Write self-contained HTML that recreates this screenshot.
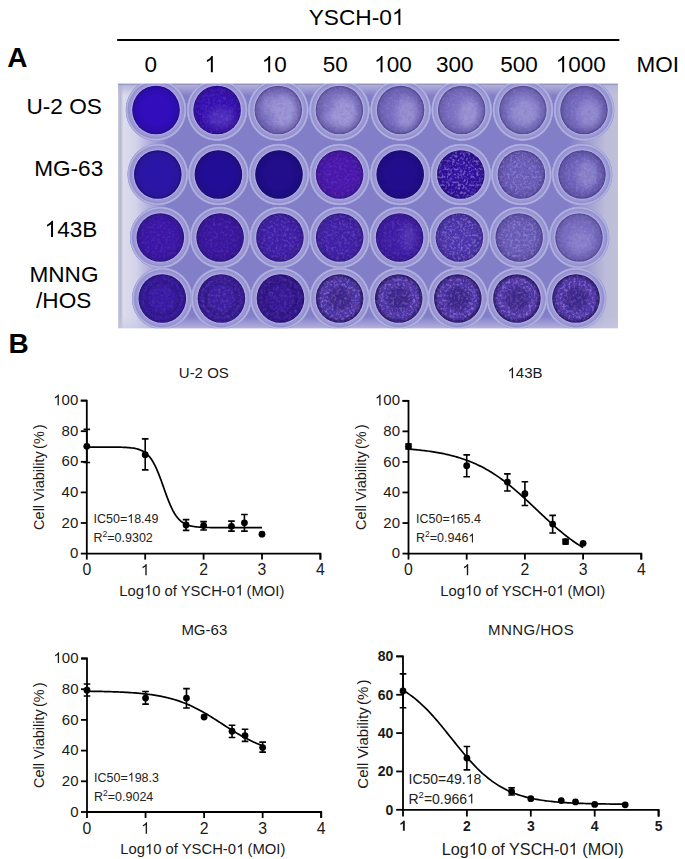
<!DOCTYPE html>
<html><head><meta charset="utf-8"><style>
html,body{margin:0;padding:0;background:#fff;width:685px;height:859px;overflow:hidden}
svg{display:block}
text{font-family:"Liberation Sans",sans-serif;white-space:pre}
</style></head><body>
<svg width="685" height="859" viewBox="0 0 685 859">
<g fill="#000"><text x="308.66" y="25.10" font-size="22.7">YSCH-0</text><path d="M763 0H583V1147Q518 1085 412 1023Q307 961 223 930V1104Q374 1175 487 1276Q600 1377 647 1472H763Z" transform="translate(391.91,25.10) scale(0.01108,-0.01108)"/></g>
<line x1="118" y1="40" x2="618.5" y2="40" stroke="#000" stroke-width="2.2" stroke-linecap="round"/>
<g fill="#000"><text x="7.20" y="67.30" font-size="28" font-weight="bold">A</text></g>
<g fill="#000"><text x="144.44" y="72.20" font-size="22.5">0</text></g>
<g fill="#000"><path d="M763 0H583V1147Q518 1085 412 1023Q307 961 223 930V1104Q374 1175 487 1276Q600 1377 647 1472H763Z" transform="translate(204.44,72.20) scale(0.01099,-0.01099)"/></g>
<g fill="#000"><path d="M763 0H583V1147Q518 1085 412 1023Q307 961 223 930V1104Q374 1175 487 1276Q600 1377 647 1472H763Z" transform="translate(261.79,72.20) scale(0.01099,-0.01099)"/><text x="274.30" y="72.20" font-size="22.5">0</text></g>
<g fill="#000"><text x="322.69" y="72.20" font-size="22.5">50</text></g>
<g fill="#000"><path d="M763 0H583V1147Q518 1085 412 1023Q307 961 223 930V1104Q374 1175 487 1276Q600 1377 647 1472H763Z" transform="translate(374.13,72.20) scale(0.01099,-0.01099)"/><text x="386.64" y="72.20" font-size="22.5">00</text></g>
<g fill="#000"><text x="436.03" y="72.20" font-size="22.5">300</text></g>
<g fill="#000"><text x="500.23" y="72.20" font-size="22.5">500</text></g>
<g fill="#000"><path d="M763 0H583V1147Q518 1085 412 1023Q307 961 223 930V1104Q374 1175 487 1276Q600 1377 647 1472H763Z" transform="translate(555.77,72.20) scale(0.01099,-0.01099)"/><text x="568.29" y="72.20" font-size="22.5">000</text></g>
<g fill="#000"><text x="636.45" y="72.20" font-size="22.5">MOI</text></g>
<g fill="#000"><text x="26.53" y="114.20" font-size="22.6">U-2 OS</text></g>
<g fill="#000"><text x="34.17" y="176.20" font-size="22.6">MG-63</text></g>
<g fill="#000"><path d="M763 0H583V1147Q518 1085 412 1023Q307 961 223 930V1104Q374 1175 487 1276Q600 1377 647 1472H763Z" transform="translate(44.61,236.90) scale(0.01104,-0.01104)"/><text x="57.18" y="236.90" font-size="22.6">43B</text></g>
<g fill="#000"><text x="29.48" y="281.60" font-size="22.6">MNNG</text></g>
<g fill="#000"><text x="36.07" y="308.20" font-size="22.6">/HOS</text></g>
<g fill="#000"><text x="8.40" y="353.40" font-size="28" font-weight="bold">B</text></g>
<defs>
<linearGradient id="plateg" x1="0" y1="0" x2="1" y2="0">
<stop offset="0" stop-color="#c8c8dc"/><stop offset="0.005" stop-color="#b8b8d2"/><stop offset="0.011" stop-color="#dcdcec"/><stop offset="0.035" stop-color="#d4d4ea"/><stop offset="0.06" stop-color="#b4b2dc"/><stop offset="0.1" stop-color="#827ec8"/>
<stop offset="0.9" stop-color="#827ec8"/><stop offset="0.95" stop-color="#a8a7d2"/><stop offset="0.975" stop-color="#bcbcda"/><stop offset="1" stop-color="#c0c0da"/></linearGradient>
<linearGradient id="platev" x1="0" y1="0" x2="0" y2="1">
<stop offset="0" stop-color="#77769e" stop-opacity="1"/><stop offset="0.008" stop-color="#b4b4da" stop-opacity="0.9"/><stop offset="0.05" stop-color="#b8b8de" stop-opacity="0"/>
<stop offset="0.95" stop-color="#c8c8e6" stop-opacity="0"/><stop offset="1" stop-color="#c8c8e6" stop-opacity="0.7"/></linearGradient>
<radialGradient id="ringg"><stop offset="0.77" stop-color="#bcbae6"/><stop offset="0.81" stop-color="#a19fd8"/><stop offset="0.9" stop-color="#928fcf"/><stop offset="0.945" stop-color="#b6b5e2"/><stop offset="0.98" stop-color="#a09ed8"/><stop offset="1" stop-color="#8a86c8" stop-opacity="0"/></radialGradient>
<radialGradient id="rim"><stop offset="0.6" stop-color="#14083c" stop-opacity="0"/><stop offset="0.9" stop-color="#14083c" stop-opacity="0.15"/><stop offset="1" stop-color="#14083c" stop-opacity="0.4"/></radialGradient>
<radialGradient id="r4a"><stop offset="0.5" stop-color="#14083c" stop-opacity="0.05"/><stop offset="0.68" stop-color="#14083c" stop-opacity="0.3"/><stop offset="0.8" stop-color="#14083c" stop-opacity="0.08"/><stop offset="0.92" stop-color="#14083c" stop-opacity="0.3"/><stop offset="1" stop-color="#14083c" stop-opacity="0.5"/></radialGradient>
<radialGradient id="r4b"><stop offset="0" stop-color="#1c0c5a" stop-opacity="0.4"/><stop offset="0.42" stop-color="#1c0c5a" stop-opacity="0.32"/><stop offset="0.6" stop-color="#1c0c5a" stop-opacity="0.05"/><stop offset="0.8" stop-color="#1c0c5a" stop-opacity="0.05"/><stop offset="0.92" stop-color="#14083c" stop-opacity="0.45"/><stop offset="1" stop-color="#14083c" stop-opacity="0.7"/></radialGradient>
<filter id="speck" x="0" y="0" width="1" height="1"><feTurbulence type="fractalNoise" baseFrequency="1.1" numOctaves="1" seed="4" result="n"/>
<feColorMatrix in="n" type="matrix" values="0 0 0 0 0.78  0 0 0 0 0.76  0 0 0 0 0.95  0 0 0 -4 2.3" result="c"/>
<feComposite in="c" in2="SourceGraphic" operator="in"/></filter>
<filter id="dspeck" x="0" y="0" width="1" height="1"><feTurbulence type="fractalNoise" baseFrequency="0.25" numOctaves="3" seed="9" result="n"/>
<feColorMatrix in="n" type="matrix" values="0 0 0 0 0.16  0 0 0 0 0.06  0 0 0 0 0.42  0 0 0 4 -1.85" result="c"/>
<feComposite in="c" in2="SourceGraphic" operator="in"/></filter>
<filter id="blob" x="-50%" y="-50%" width="200%" height="200%"><feGaussianBlur stdDeviation="3.5"/></filter>
<filter id="speck2" x="0" y="0" width="1" height="1"><feTurbulence type="fractalNoise" baseFrequency="0.38" numOctaves="2" seed="21" result="n"/>
<feColorMatrix in="n" type="matrix" values="0 0 0 0 0.55  0 0 0 0 0.45  0 0 0 0 0.9  0 0 0 -3.2 1.75" result="c0"/><feGaussianBlur in="c0" stdDeviation="0.6" result="c"/>
<feComposite in="c" in2="SourceGraphic" operator="in"/></filter>
<filter id="soft" x="0" y="0" width="1" height="1"><feGaussianBlur stdDeviation="0.45"/></filter>
<clipPath id="plateclip"><rect x="118" y="83.5" width="500" height="245"/></clipPath>
<clipPath id="w00"><ellipse cx="156.0" cy="110.0" rx="23.8" ry="24.3"/></clipPath>
<clipPath id="w01"><ellipse cx="217.1" cy="110.0" rx="23.8" ry="24.3"/></clipPath>
<clipPath id="w02"><ellipse cx="278.3" cy="110.0" rx="23.8" ry="24.3"/></clipPath>
<clipPath id="w03"><ellipse cx="339.4" cy="110.0" rx="23.8" ry="24.3"/></clipPath>
<clipPath id="w04"><ellipse cx="400.6" cy="110.0" rx="23.8" ry="24.3"/></clipPath>
<clipPath id="w05"><ellipse cx="461.7" cy="110.0" rx="23.8" ry="24.3"/></clipPath>
<clipPath id="w06"><ellipse cx="522.9" cy="110.0" rx="23.8" ry="24.3"/></clipPath>
<clipPath id="w07"><ellipse cx="584.0" cy="110.0" rx="23.8" ry="24.3"/></clipPath>
<clipPath id="w10"><ellipse cx="157.8" cy="174.5" rx="23.8" ry="24.3"/></clipPath>
<clipPath id="w11"><ellipse cx="218.4" cy="174.5" rx="23.8" ry="24.3"/></clipPath>
<clipPath id="w12"><ellipse cx="279.0" cy="174.5" rx="23.8" ry="24.3"/></clipPath>
<clipPath id="w13"><ellipse cx="339.6" cy="174.5" rx="23.8" ry="24.3"/></clipPath>
<clipPath id="w14"><ellipse cx="400.2" cy="174.5" rx="23.8" ry="24.3"/></clipPath>
<clipPath id="w15"><ellipse cx="460.8" cy="174.5" rx="23.8" ry="24.3"/></clipPath>
<clipPath id="w16"><ellipse cx="521.4" cy="174.5" rx="23.8" ry="24.3"/></clipPath>
<clipPath id="w17"><ellipse cx="582.0" cy="174.5" rx="23.8" ry="24.3"/></clipPath>
<clipPath id="w20"><ellipse cx="160.3" cy="237.5" rx="23.8" ry="24.3"/></clipPath>
<clipPath id="w21"><ellipse cx="220.1" cy="237.5" rx="23.8" ry="24.3"/></clipPath>
<clipPath id="w22"><ellipse cx="279.9" cy="237.5" rx="23.8" ry="24.3"/></clipPath>
<clipPath id="w23"><ellipse cx="339.7" cy="237.5" rx="23.8" ry="24.3"/></clipPath>
<clipPath id="w24"><ellipse cx="399.6" cy="237.5" rx="23.8" ry="24.3"/></clipPath>
<clipPath id="w25"><ellipse cx="459.4" cy="237.5" rx="23.8" ry="24.3"/></clipPath>
<clipPath id="w26"><ellipse cx="519.2" cy="237.5" rx="23.8" ry="24.3"/></clipPath>
<clipPath id="w27"><ellipse cx="579.0" cy="237.5" rx="23.8" ry="24.3"/></clipPath>
<clipPath id="w30"><ellipse cx="162.3" cy="298.5" rx="23.8" ry="24.3"/></clipPath>
<clipPath id="w31"><ellipse cx="221.4" cy="298.5" rx="23.8" ry="24.3"/></clipPath>
<clipPath id="w32"><ellipse cx="280.5" cy="298.5" rx="23.8" ry="24.3"/></clipPath>
<clipPath id="w33"><ellipse cx="339.6" cy="298.5" rx="23.8" ry="24.3"/></clipPath>
<clipPath id="w34"><ellipse cx="398.7" cy="298.5" rx="23.8" ry="24.3"/></clipPath>
<clipPath id="w35"><ellipse cx="457.8" cy="298.5" rx="23.8" ry="24.3"/></clipPath>
<clipPath id="w36"><ellipse cx="516.9" cy="298.5" rx="23.8" ry="24.3"/></clipPath>
<clipPath id="w37"><ellipse cx="576.0" cy="298.5" rx="23.8" ry="24.3"/></clipPath>
</defs>
<g clip-path="url(#plateclip)"><g filter="url(#soft)">
<rect x="118" y="83.5" width="500" height="245" fill="url(#plateg)"/>
<rect x="118" y="83.5" width="500" height="245" fill="url(#platev)"/>
<ellipse cx="156.0" cy="110.0" rx="30.8" ry="31.3" fill="url(#ringg)"/>
<g clip-path="url(#w00)">
<rect x="131.0" y="85.0" width="50" height="50" fill="rgb(48,8,188)"/>
<ellipse cx="156.0" cy="110.0" rx="23.8" ry="24.3" fill="url(#rim)"/>
</g>
<ellipse cx="217.1" cy="110.0" rx="30.8" ry="31.3" fill="url(#ringg)"/>
<g clip-path="url(#w01)">
<rect x="192.1" y="85.0" width="50" height="50" fill="rgb(54,16,176)"/>
<ellipse cx="221.1" cy="118.0" rx="14" ry="10" fill="#8a70d8" opacity="0.3" filter="url(#blob)"/>
<rect x="192.1" y="85.0" width="50" height="50" fill="#fff" filter="url(#speck)" opacity="0.02"/>
<rect x="192.1" y="85.0" width="50" height="50" fill="#fff" filter="url(#speck2)" opacity="0.12"/>
<ellipse cx="217.1" cy="110.0" rx="23.8" ry="24.3" fill="url(#rim)"/>
</g>
<ellipse cx="278.3" cy="110.0" rx="30.8" ry="31.3" fill="url(#ringg)"/>
<g clip-path="url(#w02)">
<rect x="253.3" y="85.0" width="50" height="50" fill="rgb(120,110,192)"/>
<ellipse cx="284.3" cy="112.0" rx="13" ry="17" fill="#b4b2e4" opacity="0.55" filter="url(#blob)"/>
<ellipse cx="268.3" cy="104.0" rx="7" ry="10" fill="#b4b2e4" opacity="0.35" filter="url(#blob)"/>
<rect x="253.3" y="85.0" width="50" height="50" fill="#fff" filter="url(#speck)" opacity="0.08"/>
<rect x="253.3" y="85.0" width="50" height="50" fill="#fff" filter="url(#speck2)" opacity="0.15"/>
<rect x="253.3" y="85.0" width="50" height="50" fill="#fff" filter="url(#dspeck)" opacity="0.12"/>
<ellipse cx="278.3" cy="110.0" rx="23.8" ry="24.3" fill="url(#rim)"/>
</g>
<ellipse cx="339.4" cy="110.0" rx="30.8" ry="31.3" fill="url(#ringg)"/>
<g clip-path="url(#w03)">
<rect x="314.4" y="85.0" width="50" height="50" fill="rgb(122,112,193)"/>
<ellipse cx="344.4" cy="113.0" rx="13" ry="16" fill="#b4b2e4" opacity="0.55" filter="url(#blob)"/>
<ellipse cx="331.4" cy="118.0" rx="8" ry="6" fill="#b4b2e4" opacity="0.35" filter="url(#blob)"/>
<rect x="314.4" y="85.0" width="50" height="50" fill="#fff" filter="url(#speck)" opacity="0.08"/>
<rect x="314.4" y="85.0" width="50" height="50" fill="#fff" filter="url(#speck2)" opacity="0.15"/>
<rect x="314.4" y="85.0" width="50" height="50" fill="#fff" filter="url(#dspeck)" opacity="0.12"/>
<ellipse cx="339.4" cy="110.0" rx="23.8" ry="24.3" fill="url(#rim)"/>
</g>
<ellipse cx="400.6" cy="110.0" rx="30.8" ry="31.3" fill="url(#ringg)"/>
<g clip-path="url(#w04)">
<rect x="375.6" y="85.0" width="50" height="50" fill="rgb(116,106,190)"/>
<ellipse cx="406.6" cy="114.0" rx="11" ry="16" fill="#b4b2e4" opacity="0.5" filter="url(#blob)"/>
<rect x="375.6" y="85.0" width="50" height="50" fill="#fff" filter="url(#speck)" opacity="0.06"/>
<rect x="375.6" y="85.0" width="50" height="50" fill="#fff" filter="url(#speck2)" opacity="0.15"/>
<rect x="375.6" y="85.0" width="50" height="50" fill="#fff" filter="url(#dspeck)" opacity="0.12"/>
<ellipse cx="400.6" cy="110.0" rx="23.8" ry="24.3" fill="url(#rim)"/>
</g>
<ellipse cx="461.7" cy="110.0" rx="30.8" ry="31.3" fill="url(#ringg)"/>
<g clip-path="url(#w05)">
<rect x="436.7" y="85.0" width="50" height="50" fill="rgb(120,110,192)"/>
<ellipse cx="468.7" cy="114.0" rx="11" ry="15" fill="#b4b2e4" opacity="0.5" filter="url(#blob)"/>
<rect x="436.7" y="85.0" width="50" height="50" fill="#fff" filter="url(#speck)" opacity="0.06"/>
<rect x="436.7" y="85.0" width="50" height="50" fill="#fff" filter="url(#speck2)" opacity="0.15"/>
<rect x="436.7" y="85.0" width="50" height="50" fill="#fff" filter="url(#dspeck)" opacity="0.1"/>
<ellipse cx="461.7" cy="110.0" rx="23.8" ry="24.3" fill="url(#rim)"/>
</g>
<ellipse cx="522.9" cy="110.0" rx="30.8" ry="31.3" fill="url(#ringg)"/>
<g clip-path="url(#w06)">
<rect x="497.9" y="85.0" width="50" height="50" fill="rgb(120,112,192)"/>
<ellipse cx="524.9" cy="112.0" rx="14" ry="14" fill="#b4b2e4" opacity="0.45" filter="url(#blob)"/>
<rect x="497.9" y="85.0" width="50" height="50" fill="#fff" filter="url(#speck)" opacity="0.06"/>
<rect x="497.9" y="85.0" width="50" height="50" fill="#fff" filter="url(#speck2)" opacity="0.15"/>
<rect x="497.9" y="85.0" width="50" height="50" fill="#fff" filter="url(#dspeck)" opacity="0.1"/>
<ellipse cx="522.9" cy="110.0" rx="23.8" ry="24.3" fill="url(#rim)"/>
</g>
<ellipse cx="584.0" cy="110.0" rx="30.8" ry="31.3" fill="url(#ringg)"/>
<g clip-path="url(#w07)">
<rect x="559.0" y="85.0" width="50" height="50" fill="rgb(114,104,188)"/>
<ellipse cx="589.0" cy="114.0" rx="12" ry="14" fill="#b4b2e4" opacity="0.45" filter="url(#blob)"/>
<rect x="559.0" y="85.0" width="50" height="50" fill="#fff" filter="url(#speck)" opacity="0.06"/>
<rect x="559.0" y="85.0" width="50" height="50" fill="#fff" filter="url(#speck2)" opacity="0.15"/>
<rect x="559.0" y="85.0" width="50" height="50" fill="#fff" filter="url(#dspeck)" opacity="0.1"/>
<ellipse cx="584.0" cy="110.0" rx="23.8" ry="24.3" fill="url(#rim)"/>
</g>
<ellipse cx="157.8" cy="174.5" rx="30.8" ry="31.3" fill="url(#ringg)"/>
<g clip-path="url(#w10)">
<rect x="132.8" y="149.5" width="50" height="50" fill="rgb(44,20,166)"/>
<ellipse cx="157.8" cy="174.5" rx="23.8" ry="24.3" fill="url(#rim)"/>
</g>
<ellipse cx="218.4" cy="174.5" rx="30.8" ry="31.3" fill="url(#ringg)"/>
<g clip-path="url(#w11)">
<rect x="193.4" y="149.5" width="50" height="50" fill="rgb(36,14,150)"/>
<ellipse cx="218.4" cy="174.5" rx="23.8" ry="24.3" fill="url(#rim)"/>
</g>
<ellipse cx="279.0" cy="174.5" rx="30.8" ry="31.3" fill="url(#ringg)"/>
<g clip-path="url(#w12)">
<rect x="254.0" y="149.5" width="50" height="50" fill="rgb(32,12,138)"/>
<ellipse cx="279.0" cy="174.5" rx="23.8" ry="24.3" fill="url(#rim)"/>
</g>
<ellipse cx="339.6" cy="174.5" rx="30.8" ry="31.3" fill="url(#ringg)"/>
<g clip-path="url(#w13)">
<rect x="314.6" y="149.5" width="50" height="50" fill="rgb(72,22,172)"/>
<rect x="314.6" y="149.5" width="50" height="50" fill="#fff" filter="url(#speck)" opacity="0.03"/>
<rect x="314.6" y="149.5" width="50" height="50" fill="#fff" filter="url(#speck2)" opacity="0.12"/>
<ellipse cx="339.6" cy="174.5" rx="23.8" ry="24.3" fill="url(#rim)"/>
</g>
<ellipse cx="400.2" cy="174.5" rx="30.8" ry="31.3" fill="url(#ringg)"/>
<g clip-path="url(#w14)">
<rect x="375.2" y="149.5" width="50" height="50" fill="rgb(32,12,140)"/>
<rect x="375.2" y="149.5" width="50" height="50" fill="#fff" filter="url(#speck)" opacity="0.02"/>
<ellipse cx="400.2" cy="174.5" rx="23.8" ry="24.3" fill="url(#rim)"/>
</g>
<ellipse cx="460.8" cy="174.5" rx="30.8" ry="31.3" fill="url(#ringg)"/>
<g clip-path="url(#w15)">
<rect x="435.8" y="149.5" width="50" height="50" fill="rgb(46,16,156)"/>
<rect x="435.8" y="149.5" width="50" height="50" fill="#fff" filter="url(#speck)" opacity="0.02"/>
<rect x="435.8" y="149.5" width="50" height="50" fill="#fff" filter="url(#speck2)" opacity="0.5"/>
<rect x="435.8" y="149.5" width="50" height="50" fill="#fff" filter="url(#dspeck)" opacity="0.1"/>
<ellipse cx="460.8" cy="174.5" rx="23.8" ry="24.3" fill="url(#rim)"/>
</g>
<ellipse cx="521.4" cy="174.5" rx="30.8" ry="31.3" fill="url(#ringg)"/>
<g clip-path="url(#w16)">
<rect x="496.4" y="149.5" width="50" height="50" fill="rgb(100,88,182)"/>
<rect x="496.4" y="149.5" width="50" height="50" fill="#fff" filter="url(#speck)" opacity="0.12"/>
<rect x="496.4" y="149.5" width="50" height="50" fill="#fff" filter="url(#speck2)" opacity="0.35"/>
<rect x="496.4" y="149.5" width="50" height="50" fill="#fff" filter="url(#dspeck)" opacity="0.2"/>
<ellipse cx="521.4" cy="174.5" rx="23.8" ry="24.3" fill="url(#rim)"/>
</g>
<ellipse cx="582.0" cy="174.5" rx="30.8" ry="31.3" fill="url(#ringg)"/>
<g clip-path="url(#w17)">
<rect x="557.0" y="149.5" width="50" height="50" fill="rgb(106,96,184)"/>
<ellipse cx="587.0" cy="174.5" rx="10" ry="14" fill="#b4b2e4" opacity="0.4" filter="url(#blob)"/>
<rect x="557.0" y="149.5" width="50" height="50" fill="#fff" filter="url(#speck)" opacity="0.08"/>
<rect x="557.0" y="149.5" width="50" height="50" fill="#fff" filter="url(#speck2)" opacity="0.2"/>
<rect x="557.0" y="149.5" width="50" height="50" fill="#fff" filter="url(#dspeck)" opacity="0.15"/>
<ellipse cx="582.0" cy="174.5" rx="23.8" ry="24.3" fill="url(#rim)"/>
</g>
<ellipse cx="160.3" cy="237.5" rx="30.8" ry="31.3" fill="url(#ringg)"/>
<g clip-path="url(#w20)">
<rect x="135.3" y="212.5" width="50" height="50" fill="rgb(58,22,166)"/>
<rect x="135.3" y="212.5" width="50" height="50" fill="#fff" filter="url(#speck)" opacity="0.02"/>
<rect x="135.3" y="212.5" width="50" height="50" fill="#fff" filter="url(#speck2)" opacity="0.1"/>
<ellipse cx="160.3" cy="237.5" rx="23.8" ry="24.3" fill="url(#rim)"/>
</g>
<ellipse cx="220.1" cy="237.5" rx="30.8" ry="31.3" fill="url(#ringg)"/>
<g clip-path="url(#w21)">
<rect x="195.1" y="212.5" width="50" height="50" fill="rgb(56,20,158)"/>
<rect x="195.1" y="212.5" width="50" height="50" fill="#fff" filter="url(#speck)" opacity="0.03"/>
<rect x="195.1" y="212.5" width="50" height="50" fill="#fff" filter="url(#speck2)" opacity="0.12"/>
<ellipse cx="220.1" cy="237.5" rx="23.8" ry="24.3" fill="url(#rim)"/>
</g>
<ellipse cx="279.9" cy="237.5" rx="30.8" ry="31.3" fill="url(#ringg)"/>
<g clip-path="url(#w22)">
<rect x="254.9" y="212.5" width="50" height="50" fill="rgb(60,28,166)"/>
<rect x="254.9" y="212.5" width="50" height="50" fill="#fff" filter="url(#speck)" opacity="0.04"/>
<rect x="254.9" y="212.5" width="50" height="50" fill="#fff" filter="url(#speck2)" opacity="0.2"/>
<rect x="254.9" y="212.5" width="50" height="50" fill="#fff" filter="url(#dspeck)" opacity="0.1"/>
<ellipse cx="279.9" cy="237.5" rx="23.8" ry="24.3" fill="url(#rim)"/>
</g>
<ellipse cx="339.7" cy="237.5" rx="30.8" ry="31.3" fill="url(#ringg)"/>
<g clip-path="url(#w23)">
<rect x="314.7" y="212.5" width="50" height="50" fill="rgb(62,30,166)"/>
<rect x="314.7" y="212.5" width="50" height="50" fill="#fff" filter="url(#speck)" opacity="0.04"/>
<rect x="314.7" y="212.5" width="50" height="50" fill="#fff" filter="url(#speck2)" opacity="0.2"/>
<rect x="314.7" y="212.5" width="50" height="50" fill="#fff" filter="url(#dspeck)" opacity="0.1"/>
<ellipse cx="339.7" cy="237.5" rx="23.8" ry="24.3" fill="url(#rim)"/>
</g>
<ellipse cx="399.6" cy="237.5" rx="30.8" ry="31.3" fill="url(#ringg)"/>
<g clip-path="url(#w24)">
<rect x="374.6" y="212.5" width="50" height="50" fill="rgb(60,26,164)"/>
<ellipse cx="408.6" cy="237.5" rx="8" ry="14" fill="#8a70d8" opacity="0.25" filter="url(#blob)"/>
<rect x="374.6" y="212.5" width="50" height="50" fill="#fff" filter="url(#speck)" opacity="0.03"/>
<rect x="374.6" y="212.5" width="50" height="50" fill="#fff" filter="url(#speck2)" opacity="0.15"/>
<rect x="374.6" y="212.5" width="50" height="50" fill="#fff" filter="url(#dspeck)" opacity="0.05"/>
<ellipse cx="399.6" cy="237.5" rx="23.8" ry="24.3" fill="url(#rim)"/>
</g>
<ellipse cx="459.4" cy="237.5" rx="30.8" ry="31.3" fill="url(#ringg)"/>
<g clip-path="url(#w25)">
<rect x="434.4" y="212.5" width="50" height="50" fill="rgb(70,48,170)"/>
<rect x="434.4" y="212.5" width="50" height="50" fill="#fff" filter="url(#speck)" opacity="0.05"/>
<rect x="434.4" y="212.5" width="50" height="50" fill="#fff" filter="url(#speck2)" opacity="0.45"/>
<rect x="434.4" y="212.5" width="50" height="50" fill="#fff" filter="url(#dspeck)" opacity="0.3"/>
<ellipse cx="459.4" cy="237.5" rx="23.8" ry="24.3" fill="url(#rim)"/>
</g>
<ellipse cx="519.2" cy="237.5" rx="30.8" ry="31.3" fill="url(#ringg)"/>
<g clip-path="url(#w26)">
<rect x="494.2" y="212.5" width="50" height="50" fill="rgb(100,88,180)"/>
<rect x="494.2" y="212.5" width="50" height="50" fill="#fff" filter="url(#speck)" opacity="0.1"/>
<rect x="494.2" y="212.5" width="50" height="50" fill="#fff" filter="url(#speck2)" opacity="0.4"/>
<rect x="494.2" y="212.5" width="50" height="50" fill="#fff" filter="url(#dspeck)" opacity="0.2"/>
<ellipse cx="519.2" cy="237.5" rx="23.8" ry="24.3" fill="url(#rim)"/>
</g>
<ellipse cx="579.0" cy="237.5" rx="30.8" ry="31.3" fill="url(#ringg)"/>
<g clip-path="url(#w27)">
<rect x="554.0" y="212.5" width="50" height="50" fill="rgb(118,108,192)"/>
<ellipse cx="581.0" cy="241.5" rx="11" ry="11" fill="#b4b2e4" opacity="0.28" filter="url(#blob)"/>
<rect x="554.0" y="212.5" width="50" height="50" fill="#fff" filter="url(#speck)" opacity="0.06"/>
<rect x="554.0" y="212.5" width="50" height="50" fill="#fff" filter="url(#speck2)" opacity="0.18"/>
<rect x="554.0" y="212.5" width="50" height="50" fill="#fff" filter="url(#dspeck)" opacity="0.12"/>
<ellipse cx="579.0" cy="237.5" rx="23.8" ry="24.3" fill="url(#rim)"/>
</g>
<ellipse cx="162.3" cy="298.5" rx="30.8" ry="31.3" fill="url(#ringg)"/>
<g clip-path="url(#w30)">
<rect x="137.3" y="273.5" width="50" height="50" fill="rgb(56,26,168)"/>
<rect x="137.3" y="273.5" width="50" height="50" fill="#fff" filter="url(#speck)" opacity="0.02"/>
<rect x="137.3" y="273.5" width="50" height="50" fill="#fff" filter="url(#speck2)" opacity="0.1"/>
<rect x="137.3" y="273.5" width="50" height="50" fill="#fff" filter="url(#dspeck)" opacity="0.12"/>
<ellipse cx="162.3" cy="298.5" rx="23.8" ry="24.3" fill="url(#r4a)"/>
</g>
<ellipse cx="221.4" cy="298.5" rx="30.8" ry="31.3" fill="url(#ringg)"/>
<g clip-path="url(#w31)">
<rect x="196.4" y="273.5" width="50" height="50" fill="rgb(58,28,164)"/>
<rect x="196.4" y="273.5" width="50" height="50" fill="#fff" filter="url(#speck)" opacity="0.03"/>
<rect x="196.4" y="273.5" width="50" height="50" fill="#fff" filter="url(#speck2)" opacity="0.18"/>
<rect x="196.4" y="273.5" width="50" height="50" fill="#fff" filter="url(#dspeck)" opacity="0.22"/>
<ellipse cx="221.4" cy="298.5" rx="23.8" ry="24.3" fill="url(#r4a)"/>
</g>
<ellipse cx="280.5" cy="298.5" rx="30.8" ry="31.3" fill="url(#ringg)"/>
<g clip-path="url(#w32)">
<rect x="255.5" y="273.5" width="50" height="50" fill="rgb(50,20,152)"/>
<rect x="255.5" y="273.5" width="50" height="50" fill="#fff" filter="url(#speck)" opacity="0.03"/>
<rect x="255.5" y="273.5" width="50" height="50" fill="#fff" filter="url(#speck2)" opacity="0.18"/>
<rect x="255.5" y="273.5" width="50" height="50" fill="#fff" filter="url(#dspeck)" opacity="0.28"/>
<ellipse cx="280.5" cy="298.5" rx="23.8" ry="24.3" fill="url(#r4a)"/>
</g>
<ellipse cx="339.6" cy="298.5" rx="30.8" ry="31.3" fill="url(#ringg)"/>
<g clip-path="url(#w33)">
<rect x="314.6" y="273.5" width="50" height="50" fill="rgb(72,48,166)"/>
<rect x="314.6" y="273.5" width="50" height="50" fill="#fff" filter="url(#speck)" opacity="0.06"/>
<rect x="314.6" y="273.5" width="50" height="50" fill="#fff" filter="url(#speck2)" opacity="0.5"/>
<rect x="314.6" y="273.5" width="50" height="50" fill="#fff" filter="url(#dspeck)" opacity="0.45"/>
<ellipse cx="339.6" cy="298.5" rx="23.8" ry="24.3" fill="url(#r4b)"/>
</g>
<ellipse cx="398.7" cy="298.5" rx="30.8" ry="31.3" fill="url(#ringg)"/>
<g clip-path="url(#w34)">
<rect x="373.7" y="273.5" width="50" height="50" fill="rgb(72,48,166)"/>
<rect x="373.7" y="273.5" width="50" height="50" fill="#fff" filter="url(#speck)" opacity="0.06"/>
<rect x="373.7" y="273.5" width="50" height="50" fill="#fff" filter="url(#speck2)" opacity="0.5"/>
<rect x="373.7" y="273.5" width="50" height="50" fill="#fff" filter="url(#dspeck)" opacity="0.5"/>
<ellipse cx="398.7" cy="298.5" rx="23.8" ry="24.3" fill="url(#r4b)"/>
</g>
<ellipse cx="457.8" cy="298.5" rx="30.8" ry="31.3" fill="url(#ringg)"/>
<g clip-path="url(#w35)">
<rect x="432.8" y="273.5" width="50" height="50" fill="rgb(72,48,166)"/>
<rect x="432.8" y="273.5" width="50" height="50" fill="#fff" filter="url(#speck)" opacity="0.06"/>
<rect x="432.8" y="273.5" width="50" height="50" fill="#fff" filter="url(#speck2)" opacity="0.5"/>
<rect x="432.8" y="273.5" width="50" height="50" fill="#fff" filter="url(#dspeck)" opacity="0.5"/>
<ellipse cx="457.8" cy="298.5" rx="23.8" ry="24.3" fill="url(#r4b)"/>
</g>
<ellipse cx="516.9" cy="298.5" rx="30.8" ry="31.3" fill="url(#ringg)"/>
<g clip-path="url(#w36)">
<rect x="491.9" y="273.5" width="50" height="50" fill="rgb(76,52,168)"/>
<rect x="491.9" y="273.5" width="50" height="50" fill="#fff" filter="url(#speck)" opacity="0.06"/>
<rect x="491.9" y="273.5" width="50" height="50" fill="#fff" filter="url(#speck2)" opacity="0.5"/>
<rect x="491.9" y="273.5" width="50" height="50" fill="#fff" filter="url(#dspeck)" opacity="0.5"/>
<ellipse cx="516.9" cy="298.5" rx="23.8" ry="24.3" fill="url(#r4b)"/>
</g>
<ellipse cx="576.0" cy="298.5" rx="30.8" ry="31.3" fill="url(#ringg)"/>
<g clip-path="url(#w37)">
<rect x="551.0" y="273.5" width="50" height="50" fill="rgb(74,50,168)"/>
<rect x="551.0" y="273.5" width="50" height="50" fill="#fff" filter="url(#speck)" opacity="0.06"/>
<rect x="551.0" y="273.5" width="50" height="50" fill="#fff" filter="url(#speck2)" opacity="0.5"/>
<rect x="551.0" y="273.5" width="50" height="50" fill="#fff" filter="url(#dspeck)" opacity="0.5"/>
<ellipse cx="576.0" cy="298.5" rx="23.8" ry="24.3" fill="url(#r4b)"/>
</g>
</g></g>
<g fill="#1a1a1a"><text x="178.80" y="377.50" font-size="15">U-2 OS</text></g>
<path d="M80.80 400.60 H86.80 V553.60 H320.40 V559.60" fill="none" stroke="#000" stroke-width="1.8"/>
<line x1="80.80" y1="553.60" x2="86.80" y2="553.60" stroke="#000" stroke-width="1.8"/>
<g fill="#1a1a1a"><text x="69.96" y="558.20" font-size="15">0</text></g>
<line x1="80.80" y1="523.00" x2="86.80" y2="523.00" stroke="#000" stroke-width="1.8"/>
<g fill="#1a1a1a"><text x="61.62" y="527.60" font-size="15">20</text></g>
<line x1="80.80" y1="492.40" x2="86.80" y2="492.40" stroke="#000" stroke-width="1.8"/>
<g fill="#1a1a1a"><text x="61.62" y="497.00" font-size="15">40</text></g>
<line x1="80.80" y1="461.80" x2="86.80" y2="461.80" stroke="#000" stroke-width="1.8"/>
<g fill="#1a1a1a"><text x="61.62" y="466.40" font-size="15">60</text></g>
<line x1="80.80" y1="431.20" x2="86.80" y2="431.20" stroke="#000" stroke-width="1.8"/>
<g fill="#1a1a1a"><text x="61.62" y="435.80" font-size="15">80</text></g>
<line x1="80.80" y1="400.60" x2="86.80" y2="400.60" stroke="#000" stroke-width="1.8"/>
<g fill="#1a1a1a"><path d="M763 0H583V1147Q518 1085 412 1023Q307 961 223 930V1104Q374 1175 487 1276Q600 1377 647 1472H763Z" transform="translate(53.27,405.20) scale(0.00732,-0.00732)"/><text x="61.62" y="405.20" font-size="15">00</text></g>
<line x1="86.80" y1="553.60" x2="86.80" y2="559.60" stroke="#000" stroke-width="1.8"/>
<g fill="#1a1a1a"><text x="82.41" y="575.30" font-size="15.8">0</text></g>
<line x1="145.20" y1="553.60" x2="145.20" y2="559.60" stroke="#000" stroke-width="1.8"/>
<g fill="#1a1a1a"><path d="M763 0H583V1147Q518 1085 412 1023Q307 961 223 930V1104Q374 1175 487 1276Q600 1377 647 1472H763Z" transform="translate(140.81,575.30) scale(0.00771,-0.00771)"/></g>
<line x1="203.60" y1="553.60" x2="203.60" y2="559.60" stroke="#000" stroke-width="1.8"/>
<g fill="#1a1a1a"><text x="199.21" y="575.30" font-size="15.8">2</text></g>
<line x1="262.00" y1="553.60" x2="262.00" y2="559.60" stroke="#000" stroke-width="1.8"/>
<g fill="#1a1a1a"><text x="257.61" y="575.30" font-size="15.8">3</text></g>
<line x1="320.40" y1="553.60" x2="320.40" y2="559.60" stroke="#000" stroke-width="1.8"/>
<g fill="#1a1a1a"><text x="316.01" y="575.30" font-size="15.8">4</text></g>
<path d="M86.80 447.04 L88.26 447.04 L89.72 447.04 L91.18 447.04 L92.64 447.04 L94.10 447.04 L95.56 447.04 L97.02 447.04 L98.48 447.04 L99.94 447.05 L101.40 447.05 L102.86 447.05 L104.32 447.05 L105.78 447.06 L107.24 447.06 L108.70 447.07 L110.16 447.08 L111.62 447.09 L113.08 447.10 L114.54 447.12 L116.00 447.13 L117.46 447.16 L118.92 447.18 L120.38 447.22 L121.84 447.26 L123.30 447.31 L124.76 447.37 L126.22 447.45 L127.68 447.55 L129.14 447.66 L130.60 447.80 L132.06 447.98 L133.52 448.19 L134.98 448.45 L136.44 448.76 L137.90 449.14 L139.36 449.61 L140.82 450.18 L142.28 450.86 L143.74 451.68 L145.20 452.66 L146.66 453.84 L148.12 455.23 L149.58 456.88 L151.04 458.80 L152.50 461.01 L153.96 463.55 L155.42 466.41 L156.88 469.59 L158.34 473.08 L159.80 476.82 L161.26 480.78 L162.72 484.86 L164.18 489.00 L165.64 493.10 L167.10 497.09 L168.56 500.88 L170.02 504.42 L171.48 507.66 L172.94 510.59 L174.40 513.19 L175.86 515.47 L177.32 517.45 L178.78 519.14 L180.24 520.59 L181.70 521.80 L183.16 522.82 L184.62 523.68 L186.08 524.39 L187.54 524.97 L189.00 525.46 L190.46 525.85 L191.92 526.18 L193.38 526.45 L194.84 526.67 L196.30 526.85 L197.76 527.00 L199.22 527.12 L200.68 527.22 L202.14 527.30 L203.60 527.36 L205.06 527.42 L206.52 527.46 L207.98 527.50 L209.44 527.52 L210.90 527.55 L212.36 527.57 L213.82 527.58 L215.28 527.60 L216.74 527.61 L218.20 527.61 L219.66 527.62 L221.12 527.63 L222.58 527.63 L224.04 527.63 L225.50 527.64 L226.96 527.64 L228.42 527.64 L229.88 527.64 L231.34 527.65 L232.80 527.65 L234.26 527.65 L235.72 527.65 L237.18 527.65 L238.64 527.65 L240.10 527.65 L241.56 527.65 L243.02 527.65 L244.48 527.65 L245.94 527.65 L247.40 527.65 L248.86 527.65 L250.32 527.65 L251.78 527.65 L253.24 527.65 L254.70 527.65 L256.16 527.65 L257.62 527.65 L259.08 527.65 L260.54 527.65 L262.00 527.65" fill="none" stroke="#000" stroke-width="1.7"/>
<path d="M86.80 429.36 V462.57 M83.50 429.36 H90.10 M83.50 462.57 H90.10" stroke="#000" stroke-width="1.6" fill="none"/>
<circle cx="86.80" cy="446.35" r="3.4" fill="#000"/>
<path d="M145.20 438.85 V469.91 M141.90 438.85 H148.50 M141.90 469.91 H148.50" stroke="#000" stroke-width="1.6" fill="none"/>
<circle cx="145.20" cy="454.76" r="3.4" fill="#000"/>
<path d="M186.08 519.63 V530.34 M182.78 519.63 H189.38 M182.78 530.34 H189.38" stroke="#000" stroke-width="1.6" fill="none"/>
<circle cx="186.08" cy="524.99" r="3.4" fill="#000"/>
<path d="M203.60 521.62 V530.04 M200.30 521.62 H206.90 M200.30 530.04 H206.90" stroke="#000" stroke-width="1.6" fill="none"/>
<circle cx="203.60" cy="525.60" r="3.4" fill="#000"/>
<path d="M231.46 521.16 V531.11 M228.16 521.16 H234.76 M228.16 531.11 H234.76" stroke="#000" stroke-width="1.6" fill="none"/>
<circle cx="231.46" cy="526.37" r="3.4" fill="#000"/>
<path d="M244.42 514.43 V531.11 M241.12 514.43 H247.72 M241.12 531.11 H247.72" stroke="#000" stroke-width="1.6" fill="none"/>
<circle cx="244.42" cy="522.85" r="3.4" fill="#000"/>
<circle cx="262.00" cy="534.17" r="3.4" fill="#000"/>
<g fill="#222"><text x="93.50" y="522.90" font-size="12.5">IC50=</text><path d="M763 0H583V1147Q518 1085 412 1023Q307 961 223 930V1104Q374 1175 487 1276Q600 1377 647 1472H763Z" transform="translate(127.20,522.90) scale(0.00610,-0.00610)"/><text x="134.16" y="522.90" font-size="12.5">8.49</text></g>
<g fill="#222"><text x="93.50" y="541.90" font-size="12.5">R</text><text x="102.53" y="536.90" font-size="8.5">2</text><text x="107.25" y="541.90" font-size="12.5">=0.9302</text></g>
<g fill="#1a1a1a"><text x="119.30" y="595.50" font-size="14.8">Log</text><path d="M763 0H583V1147Q518 1085 412 1023Q307 961 223 930V1104Q374 1175 487 1276Q600 1377 647 1472H763Z" transform="translate(143.99,595.50) scale(0.00723,-0.00723)"/><text x="152.22" y="595.50" font-size="14.8">0 of YSCH-0</text><path d="M763 0H583V1147Q518 1085 412 1023Q307 961 223 930V1104Q374 1175 487 1276Q600 1377 647 1472H763Z" transform="translate(235.30,595.50) scale(0.00723,-0.00723)"/><text x="246.53" y="595.50" font-size="14.8">(MOI)</text></g>
<text transform="translate(43.6,477.1) rotate(-90)" text-anchor="middle" font-size="14.5" fill="#1a1a1a">Cell Viability<tspan dx="2.3">(</tspan>%<tspan dx="2">)</tspan></text>
<g fill="#1a1a1a"><path d="M763 0H583V1147Q518 1085 412 1023Q307 961 223 930V1104Q374 1175 487 1276Q600 1377 647 1472H763Z" transform="translate(507.48,378.20) scale(0.00732,-0.00732)"/><text x="515.83" y="378.20" font-size="15">43B</text></g>
<path d="M402.50 400.80 H408.50 V553.60 H641.30 V559.60" fill="none" stroke="#000" stroke-width="1.8"/>
<line x1="402.50" y1="553.60" x2="408.50" y2="553.60" stroke="#000" stroke-width="1.8"/>
<g fill="#1a1a1a"><text x="391.66" y="558.20" font-size="15">0</text></g>
<line x1="402.50" y1="523.04" x2="408.50" y2="523.04" stroke="#000" stroke-width="1.8"/>
<g fill="#1a1a1a"><text x="383.32" y="527.64" font-size="15">20</text></g>
<line x1="402.50" y1="492.48" x2="408.50" y2="492.48" stroke="#000" stroke-width="1.8"/>
<g fill="#1a1a1a"><text x="383.32" y="497.08" font-size="15">40</text></g>
<line x1="402.50" y1="461.92" x2="408.50" y2="461.92" stroke="#000" stroke-width="1.8"/>
<g fill="#1a1a1a"><text x="383.32" y="466.52" font-size="15">60</text></g>
<line x1="402.50" y1="431.36" x2="408.50" y2="431.36" stroke="#000" stroke-width="1.8"/>
<g fill="#1a1a1a"><text x="383.32" y="435.96" font-size="15">80</text></g>
<line x1="402.50" y1="400.80" x2="408.50" y2="400.80" stroke="#000" stroke-width="1.8"/>
<g fill="#1a1a1a"><path d="M763 0H583V1147Q518 1085 412 1023Q307 961 223 930V1104Q374 1175 487 1276Q600 1377 647 1472H763Z" transform="translate(374.97,405.40) scale(0.00732,-0.00732)"/><text x="383.32" y="405.40" font-size="15">00</text></g>
<line x1="408.50" y1="553.60" x2="408.50" y2="559.60" stroke="#000" stroke-width="1.8"/>
<g fill="#1a1a1a"><text x="404.11" y="575.30" font-size="15.8">0</text></g>
<line x1="466.70" y1="553.60" x2="466.70" y2="559.60" stroke="#000" stroke-width="1.8"/>
<g fill="#1a1a1a"><path d="M763 0H583V1147Q518 1085 412 1023Q307 961 223 930V1104Q374 1175 487 1276Q600 1377 647 1472H763Z" transform="translate(462.31,575.30) scale(0.00771,-0.00771)"/></g>
<line x1="524.90" y1="553.60" x2="524.90" y2="559.60" stroke="#000" stroke-width="1.8"/>
<g fill="#1a1a1a"><text x="520.51" y="575.30" font-size="15.8">2</text></g>
<line x1="583.10" y1="553.60" x2="583.10" y2="559.60" stroke="#000" stroke-width="1.8"/>
<g fill="#1a1a1a"><text x="578.71" y="575.30" font-size="15.8">3</text></g>
<line x1="641.30" y1="553.60" x2="641.30" y2="559.60" stroke="#000" stroke-width="1.8"/>
<g fill="#1a1a1a"><text x="636.91" y="575.30" font-size="15.8">4</text></g>
<path d="M408.50 449.08 L409.95 449.19 L411.41 449.31 L412.87 449.44 L414.32 449.57 L415.77 449.70 L417.23 449.85 L418.69 449.99 L420.14 450.15 L421.60 450.31 L423.05 450.48 L424.50 450.65 L425.96 450.83 L427.42 451.02 L428.87 451.22 L430.32 451.42 L431.78 451.64 L433.24 451.86 L434.69 452.09 L436.14 452.33 L437.60 452.58 L439.06 452.84 L440.51 453.12 L441.96 453.40 L443.42 453.69 L444.88 454.00 L446.33 454.31 L447.79 454.64 L449.24 454.98 L450.69 455.34 L452.15 455.71 L453.61 456.09 L455.06 456.49 L456.51 456.90 L457.97 457.33 L459.43 457.77 L460.88 458.23 L462.34 458.70 L463.79 459.20 L465.25 459.71 L466.70 460.24 L468.15 460.78 L469.61 461.35 L471.06 461.93 L472.52 462.54 L473.98 463.16 L475.43 463.81 L476.88 464.47 L478.34 465.16 L479.80 465.87 L481.25 466.60 L482.70 467.35 L484.16 468.12 L485.62 468.92 L487.07 469.74 L488.52 470.58 L489.98 471.45 L491.44 472.33 L492.89 473.25 L494.35 474.18 L495.80 475.14 L497.25 476.12 L498.71 477.12 L500.17 478.15 L501.62 479.20 L503.07 480.27 L504.53 481.37 L505.99 482.48 L507.44 483.62 L508.89 484.77 L510.35 485.95 L511.81 487.15 L513.26 488.36 L514.72 489.60 L516.17 490.85 L517.62 492.11 L519.08 493.39 L520.53 494.69 L521.99 496.00 L523.45 497.32 L524.90 498.65 L526.36 500.00 L527.81 501.35 L529.26 502.71 L530.72 504.07 L532.17 505.44 L533.63 506.82 L535.09 508.20 L536.54 509.57 L538.00 510.95 L539.45 512.33 L540.90 513.70 L542.36 515.07 L543.82 516.44 L545.27 517.80 L546.73 519.15 L548.18 520.49 L549.63 521.82 L551.09 523.14 L552.55 524.45 L554.00 525.74 L555.46 527.02 L556.91 528.28 L558.37 529.53 L559.82 530.76 L561.27 531.97 L562.73 533.17 L564.18 534.34 L565.64 535.49 L567.10 536.63 L568.55 537.74 L570.00 538.83 L571.46 539.90 L572.91 540.94 L574.37 541.97 L575.83 542.97 L577.28 543.94 L578.74 544.90 L580.19 545.83 L581.64 546.74 L583.10 547.62" fill="none" stroke="#000" stroke-width="1.7"/>
<path d="M408.50 444.04 V448.93 M405.20 444.04 H411.80 M405.20 448.93 H411.80" stroke="#000" stroke-width="1.6" fill="none"/>
<circle cx="408.50" cy="446.49" r="3.4" fill="#000"/>
<path d="M466.70 454.89 V476.74 M463.40 454.89 H470.00 M463.40 476.74 H470.00" stroke="#000" stroke-width="1.6" fill="none"/>
<circle cx="466.70" cy="465.74" r="3.4" fill="#000"/>
<path d="M507.38 473.84 V490.95 M504.08 473.84 H510.68 M504.08 490.95 H510.68" stroke="#000" stroke-width="1.6" fill="none"/>
<circle cx="507.38" cy="482.09" r="3.4" fill="#000"/>
<path d="M524.90 481.78 V505.47 M521.60 481.78 H528.20 M521.60 505.47 H528.20" stroke="#000" stroke-width="1.6" fill="none"/>
<circle cx="524.90" cy="493.70" r="3.4" fill="#000"/>
<path d="M552.66 515.40 V532.97 M549.36 515.40 H555.96 M549.36 532.97 H555.96" stroke="#000" stroke-width="1.6" fill="none"/>
<circle cx="552.66" cy="524.11" r="3.4" fill="#000"/>
<path d="M565.58 539.39 V543.97 M562.28 539.39 H568.88 M562.28 543.97 H568.88" stroke="#000" stroke-width="1.6" fill="none"/>
<circle cx="565.58" cy="541.68" r="3.4" fill="#000"/>
<circle cx="583.10" cy="543.36" r="3.4" fill="#000"/>
<g fill="#222"><text x="416.00" y="523.40" font-size="12.5">IC50=</text><path d="M763 0H583V1147Q518 1085 412 1023Q307 961 223 930V1104Q374 1175 487 1276Q600 1377 647 1472H763Z" transform="translate(449.70,523.40) scale(0.00610,-0.00610)"/><text x="456.66" y="523.40" font-size="12.5">65.4</text></g>
<g fill="#222"><text x="416.00" y="542.40" font-size="12.5">R</text><text x="425.03" y="537.40" font-size="8.5">2</text><text x="429.75" y="542.40" font-size="12.5">=0.946</text><path d="M763 0H583V1147Q518 1085 412 1023Q307 961 223 930V1104Q374 1175 487 1276Q600 1377 647 1472H763Z" transform="translate(468.33,542.40) scale(0.00610,-0.00610)"/></g>
<g fill="#1a1a1a"><text x="440.20" y="595.50" font-size="14.8">Log</text><path d="M763 0H583V1147Q518 1085 412 1023Q307 961 223 930V1104Q374 1175 487 1276Q600 1377 647 1472H763Z" transform="translate(464.89,595.50) scale(0.00723,-0.00723)"/><text x="473.12" y="595.50" font-size="14.8">0 of YSCH-0</text><path d="M763 0H583V1147Q518 1085 412 1023Q307 961 223 930V1104Q374 1175 487 1276Q600 1377 647 1472H763Z" transform="translate(556.20,595.50) scale(0.00723,-0.00723)"/><text x="567.43" y="595.50" font-size="14.8">(MOI)</text></g>
<text transform="translate(365.6,477.2) rotate(-90)" text-anchor="middle" font-size="14.5" fill="#1a1a1a">Cell Viability<tspan dx="2.3">(</tspan>%<tspan dx="2">)</tspan></text>
<g fill="#1a1a1a"><text x="181.38" y="635.40" font-size="15">MG-63</text></g>
<path d="M81.00 658.50 H87.00 V812.00 H321.20 V818.00" fill="none" stroke="#000" stroke-width="1.8"/>
<line x1="81.00" y1="812.00" x2="87.00" y2="812.00" stroke="#000" stroke-width="1.8"/>
<g fill="#1a1a1a"><text x="70.16" y="816.60" font-size="15">0</text></g>
<line x1="81.00" y1="781.30" x2="87.00" y2="781.30" stroke="#000" stroke-width="1.8"/>
<g fill="#1a1a1a"><text x="61.82" y="785.90" font-size="15">20</text></g>
<line x1="81.00" y1="750.60" x2="87.00" y2="750.60" stroke="#000" stroke-width="1.8"/>
<g fill="#1a1a1a"><text x="61.82" y="755.20" font-size="15">40</text></g>
<line x1="81.00" y1="719.90" x2="87.00" y2="719.90" stroke="#000" stroke-width="1.8"/>
<g fill="#1a1a1a"><text x="61.82" y="724.50" font-size="15">60</text></g>
<line x1="81.00" y1="689.20" x2="87.00" y2="689.20" stroke="#000" stroke-width="1.8"/>
<g fill="#1a1a1a"><text x="61.82" y="693.80" font-size="15">80</text></g>
<line x1="81.00" y1="658.50" x2="87.00" y2="658.50" stroke="#000" stroke-width="1.8"/>
<g fill="#1a1a1a"><path d="M763 0H583V1147Q518 1085 412 1023Q307 961 223 930V1104Q374 1175 487 1276Q600 1377 647 1472H763Z" transform="translate(53.47,663.10) scale(0.00732,-0.00732)"/><text x="61.82" y="663.10" font-size="15">00</text></g>
<line x1="87.00" y1="812.00" x2="87.00" y2="818.00" stroke="#000" stroke-width="1.8"/>
<g fill="#1a1a1a"><text x="82.61" y="833.70" font-size="15.8">0</text></g>
<line x1="145.55" y1="812.00" x2="145.55" y2="818.00" stroke="#000" stroke-width="1.8"/>
<g fill="#1a1a1a"><path d="M763 0H583V1147Q518 1085 412 1023Q307 961 223 930V1104Q374 1175 487 1276Q600 1377 647 1472H763Z" transform="translate(141.16,833.70) scale(0.00771,-0.00771)"/></g>
<line x1="204.10" y1="812.00" x2="204.10" y2="818.00" stroke="#000" stroke-width="1.8"/>
<g fill="#1a1a1a"><text x="199.71" y="833.70" font-size="15.8">2</text></g>
<line x1="262.65" y1="812.00" x2="262.65" y2="818.00" stroke="#000" stroke-width="1.8"/>
<g fill="#1a1a1a"><text x="258.26" y="833.70" font-size="15.8">3</text></g>
<line x1="321.20" y1="812.00" x2="321.20" y2="818.00" stroke="#000" stroke-width="1.8"/>
<g fill="#1a1a1a"><text x="316.81" y="833.70" font-size="15.8">4</text></g>
<path d="M87.00 691.22 L88.46 691.24 L89.93 691.26 L91.39 691.28 L92.86 691.30 L94.32 691.32 L95.78 691.35 L97.25 691.38 L98.71 691.40 L100.17 691.43 L101.64 691.46 L103.10 691.50 L104.56 691.53 L106.03 691.57 L107.49 691.61 L108.96 691.65 L110.42 691.69 L111.88 691.74 L113.35 691.79 L114.81 691.84 L116.28 691.90 L117.74 691.95 L119.20 692.02 L120.67 692.08 L122.13 692.15 L123.59 692.22 L125.06 692.30 L126.52 692.38 L127.98 692.47 L129.45 692.56 L130.91 692.65 L132.38 692.75 L133.84 692.86 L135.30 692.97 L136.77 693.09 L138.23 693.22 L139.69 693.35 L141.16 693.49 L142.62 693.64 L144.09 693.80 L145.55 693.96 L147.01 694.13 L148.48 694.31 L149.94 694.51 L151.41 694.71 L152.87 694.92 L154.33 695.15 L155.80 695.38 L157.26 695.63 L158.72 695.89 L160.19 696.16 L161.65 696.45 L163.12 696.75 L164.58 697.07 L166.04 697.40 L167.51 697.74 L168.97 698.10 L170.43 698.48 L171.90 698.88 L173.36 699.30 L174.82 699.73 L176.29 700.18 L177.75 700.65 L179.22 701.14 L180.68 701.65 L182.14 702.18 L183.61 702.73 L185.07 703.30 L186.53 703.90 L188.00 704.51 L189.46 705.15 L190.93 705.80 L192.39 706.48 L193.85 707.18 L195.32 707.90 L196.78 708.64 L198.25 709.39 L199.71 710.17 L201.17 710.97 L202.64 711.79 L204.10 712.62 L205.56 713.47 L207.03 714.34 L208.49 715.22 L209.95 716.11 L211.42 717.01 L212.88 717.93 L214.35 718.86 L215.81 719.79 L217.27 720.73 L218.74 721.68 L220.20 722.63 L221.66 723.58 L223.13 724.53 L224.59 725.48 L226.06 726.43 L227.52 727.37 L228.98 728.31 L230.45 729.24 L231.91 730.16 L233.38 731.07 L234.84 731.97 L236.30 732.86 L237.77 733.73 L239.23 734.59 L240.69 735.43 L242.16 736.25 L243.62 737.06 L245.09 737.85 L246.55 738.62 L248.01 739.36 L249.48 740.09 L250.94 740.80 L252.40 741.49 L253.87 742.16 L255.33 742.80 L256.79 743.42 L258.26 744.03 L259.72 744.61 L261.19 745.17 L262.65 745.71" fill="none" stroke="#000" stroke-width="1.7"/>
<path d="M87.00 683.98 V695.95 M83.70 683.98 H90.30 M83.70 695.95 H90.30" stroke="#000" stroke-width="1.6" fill="none"/>
<circle cx="87.00" cy="690.27" r="3.4" fill="#000"/>
<path d="M145.55 691.50 V704.09 M142.25 691.50 H148.85 M142.25 704.09 H148.85" stroke="#000" stroke-width="1.6" fill="none"/>
<circle cx="145.55" cy="698.10" r="3.4" fill="#000"/>
<path d="M186.48 688.59 V707.93 M183.18 688.59 H189.78 M183.18 707.93 H189.78" stroke="#000" stroke-width="1.6" fill="none"/>
<circle cx="186.48" cy="698.10" r="3.4" fill="#000"/>
<circle cx="204.10" cy="716.98" r="3.4" fill="#000"/>
<path d="M232.03 725.27 V737.55 M228.73 725.27 H235.33 M228.73 737.55 H235.33" stroke="#000" stroke-width="1.6" fill="none"/>
<circle cx="232.03" cy="731.26" r="3.4" fill="#000"/>
<path d="M245.03 729.26 V741.39 M241.73 729.26 H248.33 M241.73 741.39 H248.33" stroke="#000" stroke-width="1.6" fill="none"/>
<circle cx="245.03" cy="735.56" r="3.4" fill="#000"/>
<path d="M262.65 742.16 V752.13 M259.35 742.16 H265.95 M259.35 752.13 H265.95" stroke="#000" stroke-width="1.6" fill="none"/>
<circle cx="262.65" cy="747.53" r="3.4" fill="#000"/>
<g fill="#222"><text x="94.00" y="781.50" font-size="12.5">IC50=</text><path d="M763 0H583V1147Q518 1085 412 1023Q307 961 223 930V1104Q374 1175 487 1276Q600 1377 647 1472H763Z" transform="translate(127.70,781.50) scale(0.00610,-0.00610)"/><text x="134.66" y="781.50" font-size="12.5">98.3</text></g>
<g fill="#222"><text x="94.00" y="800.50" font-size="12.5">R</text><text x="103.03" y="795.50" font-size="8.5">2</text><text x="107.75" y="800.50" font-size="12.5">=0.9024</text></g>
<g fill="#1a1a1a"><text x="120.30" y="854.30" font-size="14.8">Log</text><path d="M763 0H583V1147Q518 1085 412 1023Q307 961 223 930V1104Q374 1175 487 1276Q600 1377 647 1472H763Z" transform="translate(144.99,854.30) scale(0.00723,-0.00723)"/><text x="153.22" y="854.30" font-size="14.8">0 of YSCH-0</text><path d="M763 0H583V1147Q518 1085 412 1023Q307 961 223 930V1104Q374 1175 487 1276Q600 1377 647 1472H763Z" transform="translate(236.30,854.30) scale(0.00723,-0.00723)"/><text x="247.53" y="854.30" font-size="14.8">(MOI)</text></g>
<text transform="translate(44.1,735.2) rotate(-90)" text-anchor="middle" font-size="14.5" fill="#1a1a1a">Cell Viability<tspan dx="2.3">(</tspan>%<tspan dx="2">)</tspan></text>
<g fill="#1a1a1a"><text x="488.07" y="634.80" font-size="15" letter-spacing="0.45">MNNG/HOS</text></g>
<path d="M396.20 656.40 H403.00 V809.80 H658.60 V816.60" fill="none" stroke="#000" stroke-width="1.8"/>
<line x1="396.20" y1="809.80" x2="403.00" y2="809.80" stroke="#000" stroke-width="1.8"/>
<g fill="#1a1a1a"><text x="385.51" y="814.80" font-size="14" font-weight="bold">0</text></g>
<line x1="396.20" y1="771.45" x2="403.00" y2="771.45" stroke="#000" stroke-width="1.8"/>
<g fill="#1a1a1a"><text x="377.73" y="776.45" font-size="14" font-weight="bold">20</text></g>
<line x1="396.20" y1="733.10" x2="403.00" y2="733.10" stroke="#000" stroke-width="1.8"/>
<g fill="#1a1a1a"><text x="377.73" y="738.10" font-size="14" font-weight="bold">40</text></g>
<line x1="396.20" y1="694.75" x2="403.00" y2="694.75" stroke="#000" stroke-width="1.8"/>
<g fill="#1a1a1a"><text x="377.73" y="699.75" font-size="14" font-weight="bold">60</text></g>
<line x1="396.20" y1="656.40" x2="403.00" y2="656.40" stroke="#000" stroke-width="1.8"/>
<g fill="#1a1a1a"><text x="377.73" y="661.40" font-size="14" font-weight="bold">80</text></g>
<line x1="403.00" y1="809.80" x2="403.00" y2="816.60" stroke="#000" stroke-width="1.8"/>
<g fill="#1a1a1a"><path d="M834 0H553V1059Q399 915 190 846V1101Q300 1137 429 1237Q558 1337 606 1471H834Z" transform="translate(399.11,830.80) scale(0.00684,-0.00684)"/></g>
<line x1="466.90" y1="809.80" x2="466.90" y2="816.60" stroke="#000" stroke-width="1.8"/>
<g fill="#1a1a1a"><text x="463.01" y="830.80" font-size="14" font-weight="bold">2</text></g>
<line x1="530.80" y1="809.80" x2="530.80" y2="816.60" stroke="#000" stroke-width="1.8"/>
<g fill="#1a1a1a"><text x="526.91" y="830.80" font-size="14" font-weight="bold">3</text></g>
<line x1="594.70" y1="809.80" x2="594.70" y2="816.60" stroke="#000" stroke-width="1.8"/>
<g fill="#1a1a1a"><text x="590.81" y="830.80" font-size="14" font-weight="bold">4</text></g>
<line x1="658.60" y1="809.80" x2="658.60" y2="816.60" stroke="#000" stroke-width="1.8"/>
<g fill="#1a1a1a"><text x="654.71" y="830.80" font-size="14" font-weight="bold">5</text></g>
<path d="M403.00 690.26 L404.85 691.39 L406.71 692.58 L408.56 693.83 L410.41 695.14 L412.27 696.51 L414.12 697.94 L415.97 699.44 L417.82 701.00 L419.68 702.62 L421.53 704.30 L423.38 706.05 L425.24 707.85 L427.09 709.72 L428.94 711.64 L430.80 713.62 L432.65 715.66 L434.50 717.74 L436.36 719.86 L438.21 722.03 L440.06 724.24 L441.92 726.48 L443.77 728.75 L445.62 731.04 L447.47 733.35 L449.33 735.67 L451.18 738.00 L453.03 740.33 L454.89 742.65 L456.74 744.96 L458.59 747.26 L460.45 749.53 L462.30 751.78 L464.15 753.99 L466.01 756.17 L467.86 758.30 L469.71 760.40 L471.56 762.44 L473.42 764.43 L475.27 766.36 L477.12 768.24 L478.98 770.06 L480.83 771.82 L482.68 773.52 L484.54 775.15 L486.39 776.72 L488.24 778.23 L490.10 779.68 L491.95 781.06 L493.80 782.38 L495.66 783.64 L497.51 784.84 L499.36 785.99 L501.21 787.07 L503.07 788.10 L504.92 789.08 L506.77 790.01 L508.63 790.88 L510.48 791.71 L512.33 792.50 L514.19 793.23 L516.04 793.93 L517.89 794.59 L519.75 795.21 L521.60 795.79 L523.45 796.34 L525.30 796.85 L527.16 797.33 L529.01 797.79 L530.86 798.21 L532.72 798.61 L534.57 798.99 L536.42 799.34 L538.28 799.67 L540.13 799.98 L541.98 800.26 L543.84 800.53 L545.69 800.79 L547.54 801.02 L549.39 801.25 L551.25 801.45 L553.10 801.65 L554.95 801.83 L556.81 802.00 L558.66 802.15 L560.51 802.30 L562.37 802.44 L564.22 802.57 L566.07 802.69 L567.93 802.80 L569.78 802.90 L571.63 803.00 L573.49 803.09 L575.34 803.18 L577.19 803.26 L579.04 803.33 L580.90 803.40 L582.75 803.46 L584.60 803.52 L586.46 803.58 L588.31 803.63 L590.16 803.68 L592.02 803.73 L593.87 803.77 L595.72 803.81 L597.58 803.85 L599.43 803.88 L601.28 803.91 L603.13 803.94 L604.99 803.97 L606.84 804.00 L608.69 804.02 L610.55 804.04 L612.40 804.06 L614.25 804.08 L616.11 804.10 L617.96 804.12 L619.81 804.14 L621.67 804.15 L623.52 804.16 L625.37 804.18" fill="none" stroke="#000" stroke-width="1.7"/>
<path d="M403.00 673.85 V707.79 M399.70 673.85 H406.30 M399.70 707.79 H406.30" stroke="#000" stroke-width="1.6" fill="none"/>
<circle cx="403.00" cy="690.91" r="3.4" fill="#000"/>
<path d="M466.90 746.52 V769.92 M463.60 746.52 H470.20 M463.60 769.92 H470.20" stroke="#000" stroke-width="1.6" fill="none"/>
<circle cx="466.90" cy="758.03" r="3.4" fill="#000"/>
<path d="M511.57 787.75 V795.04 M508.27 787.75 H514.87 M508.27 795.04 H514.87" stroke="#000" stroke-width="1.6" fill="none"/>
<circle cx="511.57" cy="791.39" r="3.4" fill="#000"/>
<circle cx="530.80" cy="798.68" r="3.4" fill="#000"/>
<circle cx="561.28" cy="800.60" r="3.4" fill="#000"/>
<circle cx="575.47" cy="801.94" r="3.4" fill="#000"/>
<circle cx="594.70" cy="804.43" r="3.4" fill="#000"/>
<circle cx="625.18" cy="804.81" r="3.4" fill="#000"/>
<g fill="#222"><text x="408.50" y="784.00" font-size="14">IC50=49.</text><path d="M763 0H583V1147Q518 1085 412 1023Q307 961 223 930V1104Q374 1175 487 1276Q600 1377 647 1472H763Z" transform="translate(465.71,784.00) scale(0.00684,-0.00684)"/><text x="473.50" y="784.00" font-size="14">8</text></g>
<g fill="#222"><text x="408.50" y="803.50" font-size="14">R</text><text x="418.61" y="797.90" font-size="9.5">2</text><text x="423.89" y="803.50" font-size="14">=0.966</text><path d="M763 0H583V1147Q518 1085 412 1023Q307 961 223 930V1104Q374 1175 487 1276Q600 1377 647 1472H763Z" transform="translate(467.10,803.50) scale(0.00684,-0.00684)"/></g>
<g fill="#1a1a1a"><text x="441.80" y="854.50" font-size="16.2">Log</text><path d="M763 0H583V1147Q518 1085 412 1023Q307 961 223 930V1104Q374 1175 487 1276Q600 1377 647 1472H763Z" transform="translate(468.83,854.50) scale(0.00791,-0.00791)"/><text x="477.84" y="854.50" font-size="16.2">0 of YSCH-0</text><path d="M763 0H583V1147Q518 1085 412 1023Q307 961 223 930V1104Q374 1175 487 1276Q600 1377 647 1472H763Z" transform="translate(568.77,854.50) scale(0.00791,-0.00791)"/><text x="577.78" y="854.50" font-size="16.2"> (MOI)</text></g>
<text transform="translate(368,734.1) rotate(-90)" text-anchor="middle" font-size="15" fill="#1a1a1a">Cell Viability<tspan dx="2.3">(</tspan>%<tspan dx="2">)</tspan></text>
</svg></body></html>
